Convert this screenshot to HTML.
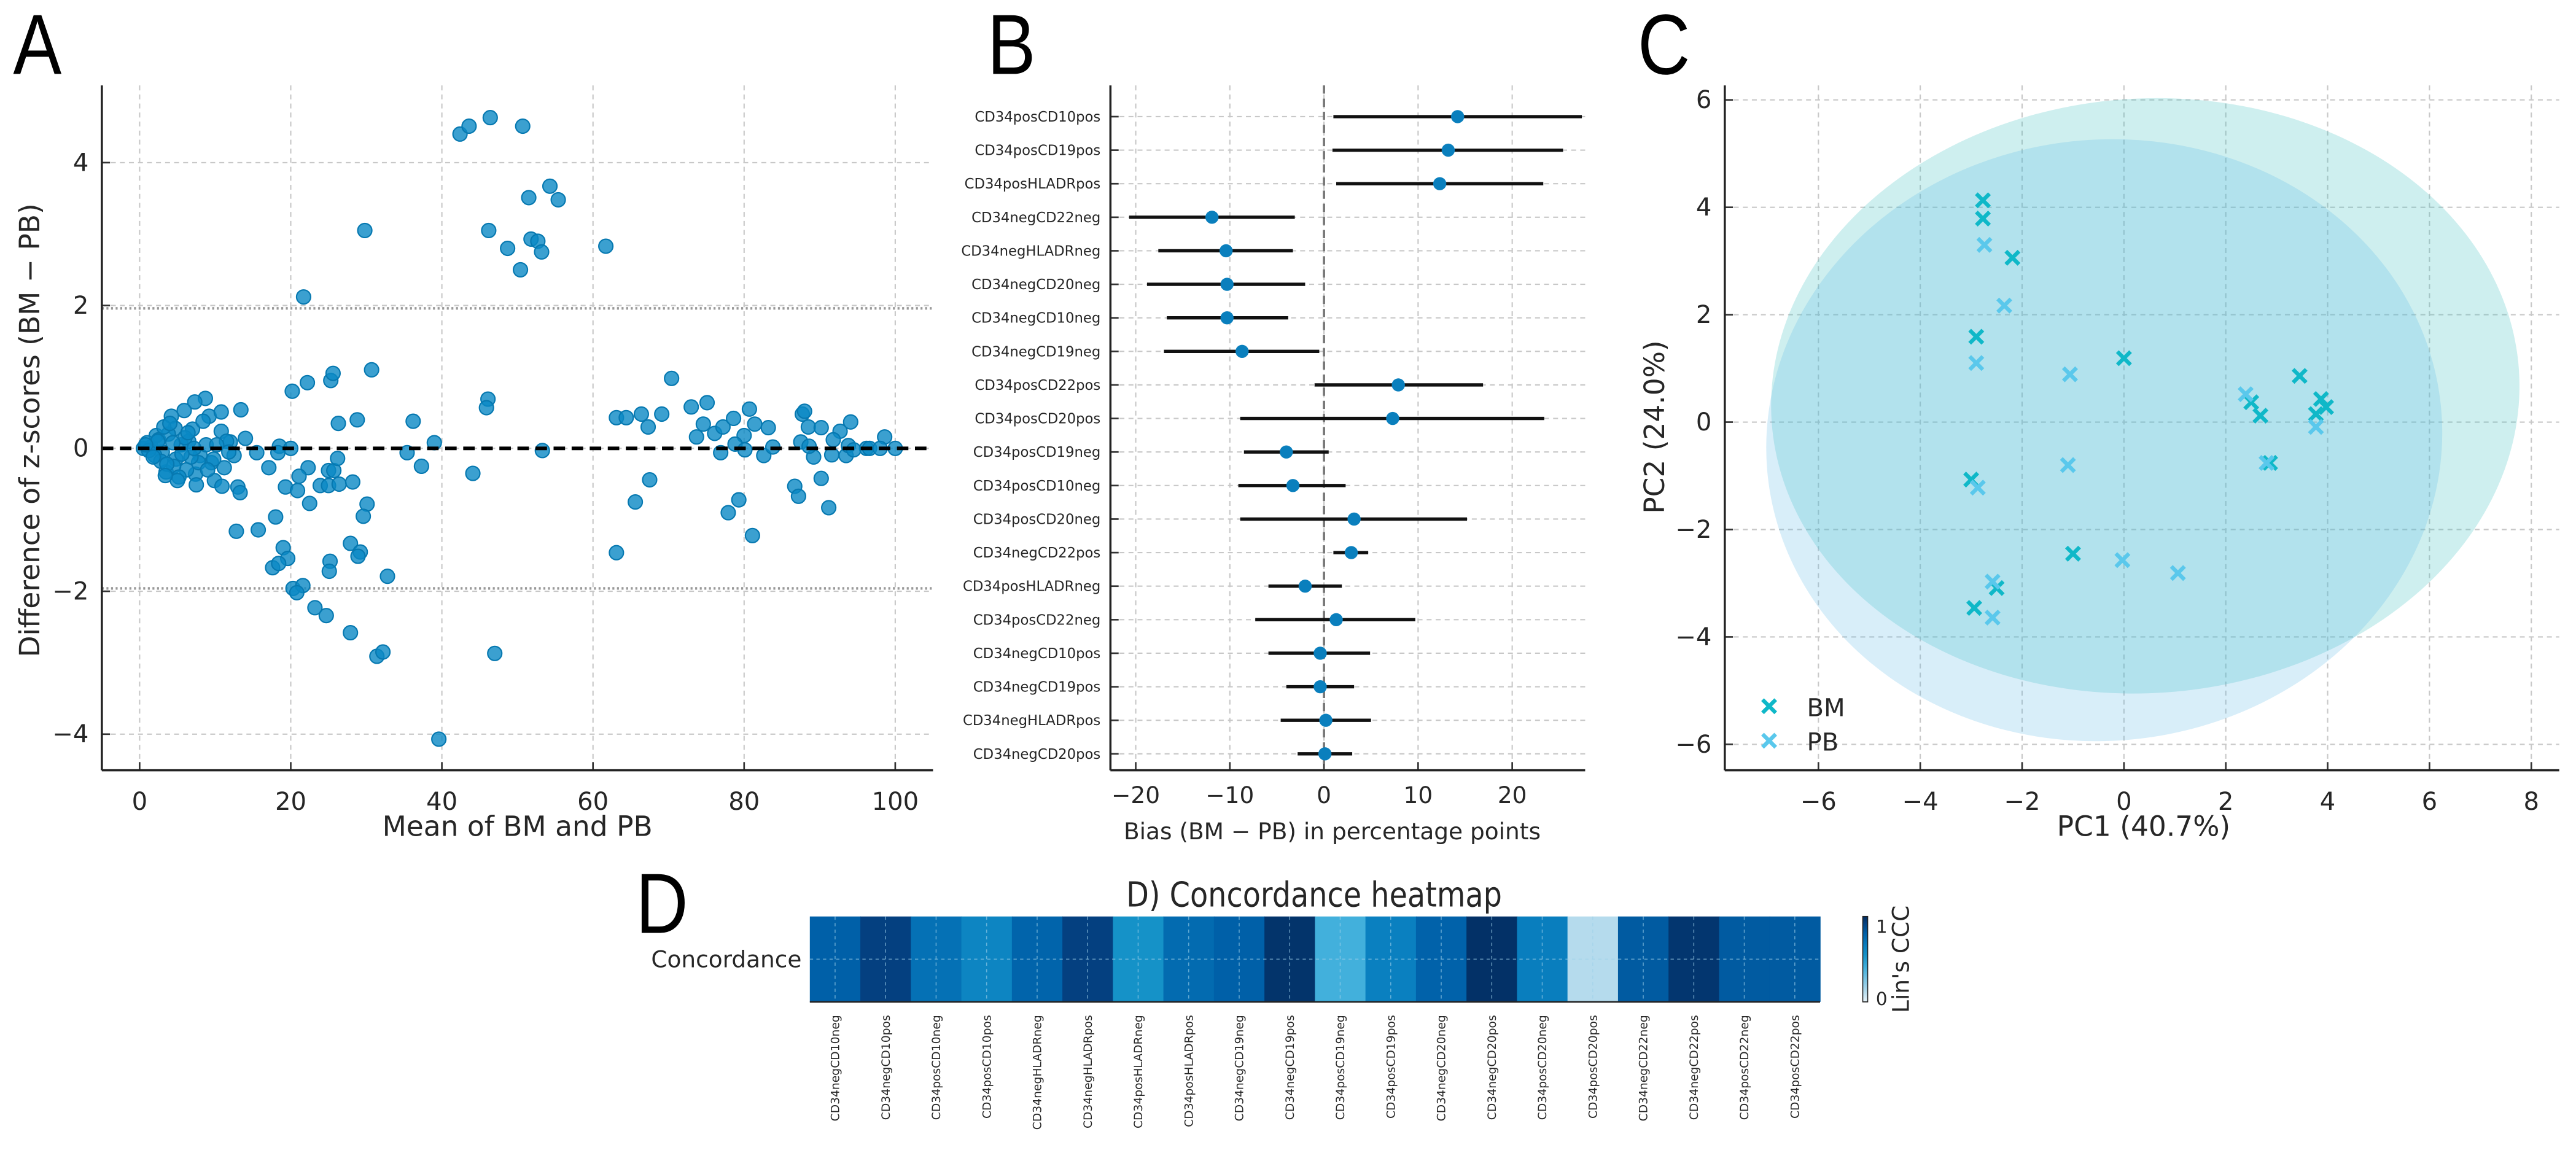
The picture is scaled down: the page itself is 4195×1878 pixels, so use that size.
<!DOCTYPE html>
<html><head><meta charset="utf-8"><style>
html,body{margin:0;padding:0;background:#fff}
svg{display:block}
text{font-family:"DejaVu Sans","Liberation Sans",sans-serif;fill:#262626}
.big{font-family:"Liberation Sans",sans-serif;fill:#000}
</style></head><body>
<svg id="fig" xmlns="http://www.w3.org/2000/svg" width="4195" height="1878" viewBox="0 0 1568.2 702">
<rect x="0" y="0" width="1568.2" height="702" fill="#fff"/>
<g id="pA"></g>
<g id="pB"></g>
<g id="pC"></g>
<g id="pD"></g>
</svg>
<script>
// ---------- Panel A data ----------
const aMeanX = [42.4,43.6,46.4,50.7,54.3,51.5,55.4,29.8,46.2,48.7,51.8,52.7,53.2,50.4,61.7,21.7,
20.2,22.2,25.3,25.6,30.7,26.3,28.8,36.2,39.0,35.4,37.3,44.1,46.1,45.9,53.3,13.4,14.0,15.5,17.1,18.5,20.0,18.3,22.3,21.1,19.3,20.9,22.5,25.0,25.7,26.2,23.9,25.0,26.4,28.2,30.1,29.6,12.8,15.7,18.0,19.0,19.6,17.6,18.4,27.9,29.2,28.9,25.2,25.1,32.8,20.3,21.6,20.8,23.2,24.7,27.9,31.4,32.2,47.0,39.6,
8.7,7.3,5.9,4.2,9.2,10.8,4.7,7.0,10.8,2.2,12.0,7.4,7.5,9.9,10.9,13.0,13.3,3.5,11.2,6.5,5.5,8.0,9.5,6.2,4.8,3.0,1.5,0.5,1.0,2.0,2.5,3.8,4.5,5.2,6.0,7.8,8.8,9.8,11.5,12.5,1.2,2.8,3.2,4.0,5.0,6.8,7.2,8.4,9.0,10.2,11.8,3.6,4.4,5.6,6.4,2.4,1.8,0.8,3.4,
63.1,64.4,66.4,67.3,69.1,70.4,73.0,75.1,74.6,73.7,76.1,77.2,78.6,80.7,81.4,83.2,80.0,78.8,76.9,80.1,82.6,83.8,67.5,65.6,63.1,79.3,77.9,81.1,86.7,87.2,90.2,91.2,87.7,88.0,88.5,90.2,92.7,94.1,87.5,89.2,91.6,93.5,91.8,93.8,96.2,96.6,98.6,100,98,88.6,94.5];
const aDiffY = [4.40,4.51,4.63,4.51,3.67,3.51,3.48,3.05,3.05,2.80,2.93,2.90,2.75,2.50,2.83,2.12,
0.80,0.92,0.95,1.05,1.10,0.35,0.40,0.38,0.08,-0.06,-0.25,-0.35,0.69,0.57,-0.03,0.54,0.14,-0.06,-0.27,0.03,0,-0.06,-0.27,-0.39,-0.54,-0.59,-0.77,-0.31,-0.31,-0.14,-0.52,-0.52,-0.50,-0.47,-0.78,-0.95,-1.16,-1.14,-0.96,-1.39,-1.54,-1.67,-1.61,-1.33,-1.45,-1.51,-1.58,-1.72,-1.79,-1.96,-1.92,-2.02,-2.23,-2.34,-2.58,-2.91,-2.85,-2.87,-4.07,
0.70,0.65,0.53,0.45,0.45,0.51,0.28,0.27,0.24,0.18,0.09,-0.36,-0.51,-0.45,-0.53,-0.54,-0.62,-0.33,-0.27,0.1,0.05,-0.1,-0.2,-0.3,-0.15,-0.05,0.02,0,0.08,-0.1,0.12,0.2,-0.25,-0.4,0.15,-0.2,0.05,-0.15,0.1,-0.1,-0.03,-0.18,0.3,0.35,-0.45,-0.12,0.0,0.38,-0.3,0.05,-0.05,-0.22,0.08,-0.08,0.22,0.1,-0.12,0.05,-0.38,
0.43,0.43,0.48,0.30,0.48,0.98,0.58,0.64,0.34,0.16,0.21,0.30,0.42,0.55,0.34,0.29,0.18,0.06,-0.06,-0.02,-0.10,0.02,-0.44,-0.75,-1.46,-0.72,-0.90,-1.22,-0.53,-0.67,-0.42,-0.83,0.48,0.52,0.30,0.29,0.24,0.37,0.09,-0.12,-0.09,-0.10,0.12,0.04,0,0,0.16,0,0,0.03,-0.02];
const aXTicks = [0,20,40,60,80,100];
const aYTicks = [-4,-2,0,2,4];
// ---------- Panel B data ----------
const bLabels = ["CD34posCD10pos","CD34posCD19pos","CD34posHLADRpos","CD34negCD22neg","CD34negHLADRneg","CD34negCD20neg","CD34negCD10neg","CD34negCD19neg","CD34posCD22pos","CD34posCD20pos","CD34posCD19neg","CD34posCD10neg","CD34posCD20neg","CD34negCD22pos","CD34posHLADRneg","CD34posCD22neg","CD34negCD10pos","CD34negCD19pos","CD34negHLADRpos","CD34negCD20pos"];
const bBias = [14.2,13.2,12.3,-11.9,-10.4,-10.3,-10.3,-8.7,7.9,7.3,-4.0,-3.3,3.2,2.9,-2.0,1.3,-0.4,-0.4,0.2,0.1];
const bLow = [1.0,0.9,1.3,-20.7,-17.6,-18.8,-16.7,-17.0,-1.0,-8.9,-8.5,-9.1,-8.9,1.0,-5.9,-7.3,-5.9,-4.0,-4.6,-2.8];
const bHigh = [27.4,25.4,23.3,-3.1,-3.3,-2.0,-3.8,-0.5,16.9,23.4,0.5,2.3,15.2,4.7,1.9,9.7,4.9,3.2,5.0,3.0];
const bXTicks = [-20,-10,0,10,20];
// ---------- Panel C data ----------
const cBmX = [-2.77,-2.77,-2.19,-2.9,0,3.45,2.5,2.68,3.87,3.97,3.77,2.87,-3.0,-1.0,-2.5,-2.94];
const cBmY = [4.13,3.79,3.06,1.59,1.19,0.86,0.37,0.12,0.43,0.28,0.15,-0.76,-1.07,-2.45,-3.09,-3.46];
const cPbX = [-2.74,-2.35,-2.9,-1.06,2.39,3.77,2.8,-1.1,-2.87,-0.03,1.06,-2.58,-2.58];
const cPbY = [3.3,2.17,1.1,0.89,0.52,-0.09,-0.76,-0.8,-1.22,-2.57,-2.81,-2.97,-3.64];
const cXTicks = [-6,-4,-2,0,2,4,6,8];
const cYTicks = [-6,-4,-2,0,2,4,6];
// ---------- Panel D data ----------
const dLabels = ["CD34negCD10neg","CD34negCD10pos","CD34posCD10neg","CD34posCD10pos","CD34negHLADRneg","CD34negHLADRpos","CD34posHLADRneg","CD34posHLADRpos","CD34negCD19neg","CD34negCD19pos","CD34posCD19neg","CD34posCD19pos","CD34negCD20neg","CD34negCD20pos","CD34posCD20neg","CD34posCD20pos","CD34negCD22neg","CD34negCD22pos","CD34posCD22neg","CD34posCD22pos"];
const dCCC = [0.8,0.92,0.72,0.62,0.78,0.92,0.55,0.75,0.8,0.97,0.4,0.65,0.79,0.98,0.66,0.12,0.82,0.96,0.82,0.82];

const NS="http://www.w3.org/2000/svg";
function mk(parent,tag,attrs,txt){const e=document.createElementNS(NS,tag);for(const k in attrs)e.setAttribute(k,attrs[k]);if(txt!==undefined)e.textContent=txt;parent.appendChild(e);return e;}
const GRID={stroke:"#c8c8c8","stroke-width":0.8,"stroke-dasharray":"3,2.5"};

// ===== Panel A =====
(function(){
const g=document.getElementById('pA');
const L=62,R=568,T=52,B=469;
const sx=v=>85+v*4.6, sy=v=>273-v*43.5;
aXTicks.forEach(t=>{const l=mk(g,'line',Object.assign({x1:sx(t),x2:sx(t),y1:T,y2:B},GRID));


const tx=mk(g,'text',{x:sx(t),y:B+24,'font-size':15,'text-anchor':'middle'},String(t));


mk(g,'line',{x1:sx(t),x2:sx(t),y1:B,y2:B-5,stroke:'#333','stroke-width':1});});
aYTicks.forEach(t=>{const l=mk(g,'line',Object.assign({x1:L,x2:R,y1:sy(t),y2:sy(t)},GRID));


const tx=mk(g,'text',{x:L-8,y:sy(t)+5,'font-size':15,'text-anchor':'end'},(t<0?'\u2212':'')+Math.abs(t));


mk(g,'line',{x1:L,x2:L+5,y1:sy(t),y2:sy(t),stroke:'#333','stroke-width':1});});
[1.96,-1.96].forEach(v=>{const l=mk(g,'line',{x1:L,x2:R,y1:sy(v),y2:sy(v),stroke:'#999','stroke-width':1.6,'stroke-dasharray':'1.2,1.6'});

});
aMeanX.forEach((x,i)=>{const c=mk(g,'circle',{cx:sx(x),cy:sy(aDiffY[i]),r:4.3,fill:'#0a88c4','fill-opacity':0.8,stroke:'#0678b0','stroke-width':0.8});

});
const z=mk(g,'line',{x1:L,x2:R,y1:sy(0),y2:sy(0),stroke:'#000','stroke-width':2.2,'stroke-dasharray':'7,4'});


mk(g,'line',{x1:L,x2:L,y1:T,y2:B,stroke:'#222','stroke-width':1.3});
mk(g,'line',{x1:L,x2:R,y1:B,y2:B,stroke:'#222','stroke-width':1.3});
const xl=mk(g,'text',{x:315,y:509,'font-size':17,'text-anchor':'middle'},'Mean of BM and PB');


const yl=mk(g,'text',{x:0,y:0,'font-size':17,'text-anchor':'middle',transform:'translate(24,262) rotate(-90)'},'Difference of z-scores (BM \u2212 PB)');


const lt=mk(g,'text',{x:0,y:0,'font-size':52,class:'big',transform:'translate(8,45) scale(0.85,1)'},'A');


})();

// ===== Panel B =====
(function(){
const g=document.getElementById('pB');
const L=676,R=965,T=52,B=469;
const sx=v=>806+v*5.73, sy=i=>71+i*20.42;
bXTicks.forEach(t=>{const l=mk(g,'line',Object.assign({x1:sx(t),x2:sx(t),y1:T,y2:B},GRID));


const tx=mk(g,'text',{x:sx(t),y:B+20,'font-size':14,'text-anchor':'middle'},(t<0?'\u2212':'')+Math.abs(t));


mk(g,'line',{x1:sx(t),x2:sx(t),y1:B,y2:B-5,stroke:'#333','stroke-width':1});});
bLabels.forEach((lab,i)=>{const y=sy(i);
const l=mk(g,'line',Object.assign({x1:L,x2:R,y1:y,y2:y},GRID));


mk(g,'line',{x1:L,x2:L+5,y1:y,y2:y,stroke:'#333','stroke-width':1});
const tx=mk(g,'text',{x:L-6,y:y+3,'font-size':8.5,'text-anchor':'end'},lab);

});
const zl=mk(g,'line',{x1:sx(0),x2:sx(0),y1:T,y2:B,stroke:'#777','stroke-width':1.4,'stroke-dasharray':'5,3'});


bBias.forEach((v,i)=>{const y=sy(i);
const ci=mk(g,'line',{x1:sx(bLow[i]),x2:sx(bHigh[i]),y1:y,y2:y,stroke:'#111','stroke-width':2});


const c=mk(g,'circle',{cx:sx(v),cy:y,r:4,fill:'#0a7fbd'});

});
mk(g,'line',{x1:L,x2:L,y1:T,y2:B,stroke:'#222','stroke-width':1.3});
mk(g,'line',{x1:L,x2:R,y1:B,y2:B,stroke:'#222','stroke-width':1.3});
const xl=mk(g,'text',{x:811,y:511,'font-size':14,'text-anchor':'middle'},'Bias (BM \u2212 PB) in percentage points');


const lt=mk(g,'text',{x:0,y:0,'font-size':52,class:'big',transform:'translate(601,45) scale(0.85,1)'},'B');


})();

// ===== Panel C =====
(function(){
const g=document.getElementById('pC');
const L=1050,R=1558,T=52,B=469;
const sx=v=>1293+v*31, sy=v=>257-v*32.7;
cXTicks.forEach(t=>{const l=mk(g,'line',Object.assign({x1:sx(t),x2:sx(t),y1:T,y2:B},GRID));


const tx=mk(g,'text',{x:sx(t),y:B+24,'font-size':15,'text-anchor':'middle'},(t<0?'\u2212':'')+Math.abs(t));


mk(g,'line',{x1:sx(t),x2:sx(t),y1:B,y2:B-5,stroke:'#333','stroke-width':1});});
cYTicks.forEach(t=>{const l=mk(g,'line',Object.assign({x1:L,x2:R,y1:sy(t),y2:sy(t)},GRID));


const tx=mk(g,'text',{x:L-8,y:sy(t)+5,'font-size':15,'text-anchor':'end'},(t<0?'\u2212':'')+Math.abs(t));


mk(g,'line',{x1:L,x2:L+5,y1:sy(t),y2:sy(t),stroke:'#333','stroke-width':1});});
const e1=mk(g,'ellipse',{cx:1306,cy:241,rx:228,ry:181,fill:'#3cc0c0','fill-opacity':0.25,transform:'rotate(-4 1306 241)'});


const e2=mk(g,'ellipse',{cx:1281,cy:268,rx:206,ry:183,fill:'#5ab8e6','fill-opacity':0.24,transform:'rotate(-6 1281 268)'});


function cross(x,y,col,name){const s=4;const p=mk(g,'path',{d:`M${x-s},${y-s}L${x+s},${y+s}M${x-s},${y+s}L${x+s},${y-s}`,stroke:col,'stroke-width':2.4});

}
cBmX.forEach((x,i)=>cross(sx(x),sy(cBmY[i]),'#0fb8c8','c-bm-point'));
cPbX.forEach((x,i)=>cross(sx(x),sy(cPbY[i]),'#5ac8ec','c-pb-point'));
cross(1077,430,'#0fb8c8','legend-bm-marker');
cross(1077,451,'#5ac8ec','legend-pb-marker');
const l1=mk(g,'text',{x:1100,y:436,'font-size':15},'BM');


const l2=mk(g,'text',{x:1100,y:457,'font-size':15},'PB');


mk(g,'line',{x1:L,x2:L,y1:T,y2:B,stroke:'#222','stroke-width':1.3});
mk(g,'line',{x1:L,x2:R,y1:B,y2:B,stroke:'#222','stroke-width':1.3});
const xl=mk(g,'text',{x:1305,y:509,'font-size':17,'text-anchor':'middle'},'PC1 (40.7%)');


const yl=mk(g,'text',{x:0,y:0,'font-size':17,'text-anchor':'middle',transform:'translate(1013,260) rotate(-90)'},'PC2 (24.0%)');


const lt=mk(g,'text',{x:0,y:0,'font-size':52,class:'big',transform:'translate(997,45) scale(0.85,1)'},'C');


})();

// ===== Panel D =====
(function(){
const g=document.getElementById('pD');
const L=493,R=1108,T=558,B=610,n=dCCC.length,w=(R-L)/n;
const stops=[[0,[232,244,250]],[0.15,[168,213,234]],[0.4,[66,176,220]],[0.55,[21,146,200]],[0.65,[10,128,192]],[0.8,[0,96,168]],[0.92,[4,64,128]],[1,[2,44,94]]];
function cmap(v){for(let i=1;i<stops.length;i++){if(v<=stops[i][0]){const a=stops[i-1],b=stops[i],t=(v-a[0])/(b[0]-a[0]);return 'rgb('+a[1].map((c,k)=>Math.round(c+(b[1][k]-c)*t)).join(',')+')';}}return 'rgb(2,44,94)';}
dCCC.forEach((v,i)=>{const r=mk(g,'rect',{x:L+i*w,y:T,width:w+0.3,height:B-T,fill:cmap(v)});

});
dLabels.forEach((lab,i)=>{const x=L+(i+0.5)*w;
mk(g,'line',{x1:x,x2:x,y1:T,y2:B,stroke:'#9fd0ea','stroke-width':0.6,'stroke-dasharray':'2,2','stroke-opacity':0.6});
const t=mk(g,'text',{x:0,y:0,'font-size':7,'text-anchor':'end',transform:`translate(${x+2.5},${B+8}) rotate(-90)`},lab);

});
mk(g,'line',{x1:L,x2:R,y1:(T+B)/2,y2:(T+B)/2,stroke:'#9fd0ea','stroke-width':0.6,'stroke-dasharray':'2,2','stroke-opacity':0.6});
mk(g,'line',{x1:L,x2:R,y1:B,y2:B,stroke:'#222','stroke-width':1});
const cl=mk(g,'text',{x:488,y:589,'font-size':14,'text-anchor':'end'},'Concordance');


const ti=mk(g,'text',{x:0,y:0,'font-size':21,'text-anchor':'middle',transform:'translate(800,552) scale(0.85,1)'},'D) Concordance heatmap');


const defs=mk(g,'defs',{});const lg=mk(defs,'linearGradient',{id:'cbg',x1:0,y1:1,x2:0,y2:0});
stops.forEach(s=>mk(lg,'stop',{offset:s[0],'stop-color':'rgb('+s[1].join(',')+')'}));
const cb=mk(g,'rect',{x:1134,y:558,width:3,height:52,fill:'url(#cbg)',stroke:'#222','stroke-width':0.6});


mk(g,'text',{x:1142,y:568,'font-size':11},'1');
mk(g,'text',{x:1142,y:612,'font-size':11},'0');
const cbl=mk(g,'text',{x:0,y:0,'font-size':14,'text-anchor':'middle',transform:'translate(1162,584) rotate(-90)'},"Lin's CCC");


const lt=mk(g,'text',{x:0,y:0,'font-size':52,class:'big',transform:'translate(387,568) scale(0.85,1)'},'D');


})();
</script>
</body></html>
